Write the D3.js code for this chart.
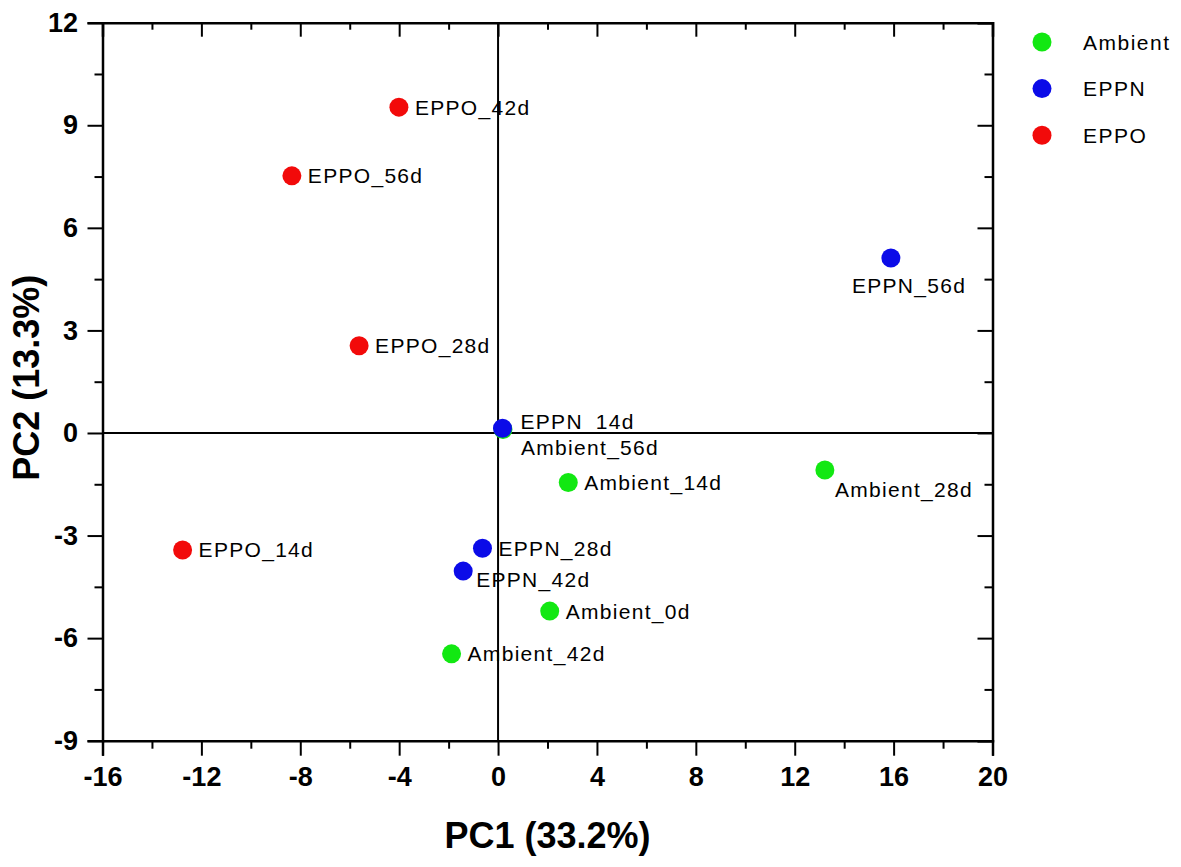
<!DOCTYPE html>
<html>
<head>
<meta charset="utf-8">
<script src="https://cdn.jsdelivr.net/npm/d3@7"></script>
<style>
  html, body { margin: 0; padding: 0; background: #fff; }
  svg { display: block; font-family: "Liberation Sans", Arial, sans-serif; }
  .tick-label { font-size: 27px; font-weight: bold; fill: #000; }
  .point-label { font-size: 21px; letter-spacing: 1.3px; fill: #000; }
  .legend-label { font-size: 21px; letter-spacing: 1.5px; fill: #000; }
  .axis-title { font-size: 36px; font-weight: bold; fill: #000; }
</style>
</head>
<body>
<div id="chart"></div>
<script>
// sample names, group and scores
const sampleNames = ['Ambient_0d', 'Ambient_14d', 'Ambient_28d', 'Ambient_42d', 'Ambient_56d',
  'EPPN_14d', 'EPPN_28d', 'EPPN_42d', 'EPPN_56d',
  'EPPO_14d', 'EPPO_28d', 'EPPO_42d', 'EPPO_56d'];
const sampleGroups = ['Ambient', 'Ambient', 'Ambient', 'Ambient', 'Ambient',
  'EPPN', 'EPPN', 'EPPN', 'EPPN',
  'EPPO', 'EPPO', 'EPPO', 'EPPO'];
const pc1Scores = [2.09, 2.84, 13.22, -1.88, 0.2, 0.18, -0.63, -1.41, 15.89, -12.76, -5.62, -4.01, -8.34];
const pc2Scores = [-5.21, -1.45, -1.08, -6.46, 0.1, 0.14, -3.37, -4.04, 5.12, -3.42, 2.55, 9.53, 7.52];

const groups = ['Ambient', 'EPPN', 'EPPO'];
const groupColors = ['#12e812', '#0b0be8', '#f20a0a'];

const xTicks = [-16, -12, -8, -4, 0, 4, 8, 12, 16, 20];
const yTicks = [-9, -6, -3, 0, 3, 6, 9, 12];
const xTitle = 'PC1 (33.2%)';
const yTitle = 'PC2 (13.3%)';

// label placement (pixels from the point), default is right of the dot
const labelDefault = { dx: 16, dy: 7.5 };
const labelOffsets = {
  'EPPN_14d': { dx: 18, dy: 1 },
  'Ambient_56d': { dx: 18, dy: 25 },
  'EPPN_42d': { dx: 13, dy: 16 },
  'EPPN_56d': { dx: -39, dy: 35 },
  'Ambient_28d': { dx: 10, dy: 27 }
};

const W = 1181, H = 867;
const margin = { top: 22.7, right: 188.5, bottom: 126.3, left: 102.5 };
const width = W - margin.left - margin.right;
const height = H - margin.top - margin.bottom;
const dotRadius = 9.5;

const svg = d3.select('#chart').append('svg')
  .attr('width', W)
  .attr('height', H);
const g = svg.append('g').attr('transform', `translate(${margin.left},${margin.top})`);

const x = d3.scaleLinear().domain([-16, 20]).range([0, width]);
const y = d3.scaleLinear().domain([-9, 12]).range([height, 0]);
const color = d3.scaleOrdinal().domain(groups).range(groupColors);

const xMinor = d3.range(-14, 20, 4);
const yMinor = d3.range(-7.5, 12, 3);
const plainNumber = d => String(d); // hyphen minus like the original, not U+2212

function styleAxis(sel) {
  sel.select('.domain').attr('stroke', '#000').attr('stroke-width', 2.5);
  sel.selectAll('.tick line').attr('stroke', '#000').attr('stroke-width', 2);
}

function minorTicks(sel) {
  sel.select('.domain').remove();
  sel.selectAll('line').attr('stroke', '#000').attr('stroke-width', 2);
}

// bottom axis (ticks outwards, labelled)
const gx = g.append('g').attr('transform', `translate(0,${height})`)
  .call(d3.axisBottom(x).tickValues(xTicks).tickSize(15).tickPadding(11).tickFormat(plainNumber));
styleAxis(gx);
gx.selectAll('text').attr('class', 'tick-label');
g.append('g').attr('transform', `translate(0,${height})`)
  .call(d3.axisBottom(x).tickValues(xMinor).tickSize(8).tickFormat(''))
  .call(minorTicks);

// left axis
const gy = g.append('g')
  .call(d3.axisLeft(y).tickValues(yTicks).tickSize(15).tickPadding(9.5).tickFormat(plainNumber));
styleAxis(gy);
gy.selectAll('text').attr('class', 'tick-label');
g.append('g')
  .call(d3.axisLeft(y).tickValues(yMinor).tickSize(8).tickFormat(''))
  .call(minorTicks);

// top axis: ticks pointing inwards, no labels
const gt = g.append('g')
  .call(d3.axisBottom(x).tickValues(xTicks).tickSize(14).tickFormat(''));
styleAxis(gt);
g.append('g')
  .call(d3.axisBottom(x).tickValues(xMinor).tickSize(7).tickFormat(''))
  .call(minorTicks);

// right axis: ticks pointing inwards
const gr = g.append('g').attr('transform', `translate(${width},0)`)
  .call(d3.axisLeft(y).tickValues(yTicks).tickSize(15).tickFormat(''));
styleAxis(gr);
g.append('g').attr('transform', `translate(${width},0)`)
  .call(d3.axisLeft(y).tickValues(yMinor).tickSize(8).tickFormat(''))
  .call(minorTicks);

// zero lines
g.append('line')
  .attr('x1', x(0)).attr('x2', x(0)).attr('y1', 0).attr('y2', height)
  .attr('stroke', '#000').attr('stroke-width', 2);
g.append('line')
  .attr('x1', 0).attr('x2', width).attr('y1', y(0)).attr('y2', y(0))
  .attr('stroke', '#000').attr('stroke-width', 2);

const samples = sampleNames.map((name, i) => ({
  name,
  group: sampleGroups[i],
  pc1: pc1Scores[i],
  pc2: pc2Scores[i]
}));

// dots
g.selectAll('.dot')
  .data(samples)
  .enter()
  .append('circle')
  .attr('class', 'dot')
  .attr('cx', d => x(d.pc1))
  .attr('cy', d => y(d.pc2))
  .attr('r', dotRadius)
  .attr('fill', d => color(d.group));

// labels
g.selectAll('.point-label')
  .data(samples)
  .enter()
  .append('text')
  .attr('class', 'point-label')
  .attr('x', d => x(d.pc1) + (labelOffsets[d.name] || labelDefault).dx)
  .attr('y', d => y(d.pc2) + (labelOffsets[d.name] || labelDefault).dy)
  .text(d => d.name);

// axis titles
svg.append('text')
  .attr('class', 'axis-title')
  .attr('text-anchor', 'middle')
  .attr('x', margin.left + width / 2)
  .attr('y', 848)
  .text(xTitle);
svg.append('text')
  .attr('class', 'axis-title')
  .attr('text-anchor', 'middle')
  .attr('transform', `translate(39,${margin.top + height / 2 - 4}) rotate(-90)`)
  .text(yTitle);

// legend
const legend = svg.append('g').attr('transform', 'translate(1042,42)');
const items = legend.selectAll('.legend-item')
  .data(groups)
  .enter()
  .append('g')
  .attr('class', 'legend-item')
  .attr('transform', (d, i) => `translate(0,${i * 46.6})`);
items.append('circle').attr('r', dotRadius).attr('fill', d => color(d));
items.append('text')
  .attr('class', 'legend-label')
  .attr('x', 41)
  .attr('y', 7.5)
  .text(d => d);
</script>
</body>
</html>
